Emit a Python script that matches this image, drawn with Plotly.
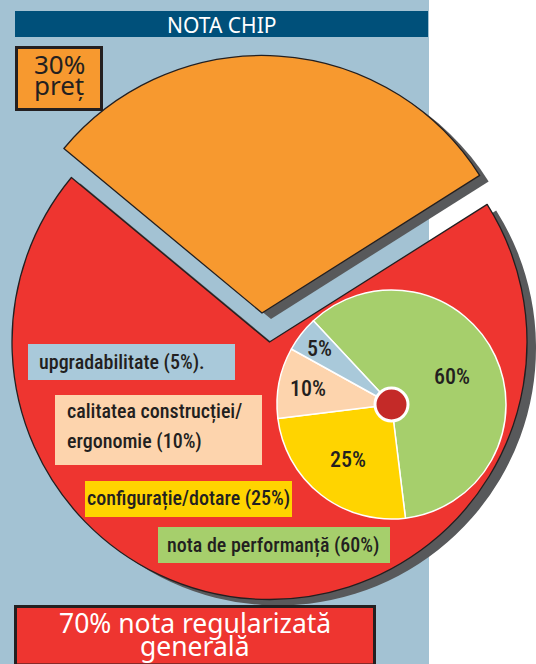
import math
import plotly.graph_objects as go

# ---------------- data ----------------
OUTER_LABELS = ["nota regularizată generală", "preț"]
OUTER_VALUES = [70, 30]
INNER_LABELS = ["nota de performanță", "configurație/dotare",
                "calitatea construcției/ergonomie", "upgradabilitate"]
INNER_VALUES = [60, 25, 10, 5]
TITLE = "NOTA CHIP"
PRICE_TEXT = ["30%", "preț"]
TOTAL_TEXT = ["70% nota regularizată", "generală"]
LEGEND_TEXTS = ["upgradabilitate (5%).", "calitatea construcției/",
                "ergonomie (10%)", "configurație/dotare (25%)",
                "nota de performanță (60%)"]

# ---------------- style ----------------
W, H = 536, 664
BG_BLUE = "#a3c2d3"
NAVY = "#00507a"
RED = "#ee3530"
ORANGE = "#f7992f"
SHADOW = "#58595b"
INK = "#231f20"
CLEAR = "rgba(0,0,0,0)"
INNER_COLORS = ["#a6cf6c", "#ffd400", "#fdd4ad", "#a9c9da"]
COND = "Roboto Condensed, Liberation Sans Narrow, DejaVu Sans Condensed, sans-serif"
SANS = "Noto Sans, Open Sans, sans-serif"

OUTER_ROT = 57.7
INNER_ROT = -43
R_BIG = 257.5
RED_C = (269.5, 342)
ORANGE_C = (262, 313)
SH = (9, 6)
IN_C = (391.5, 404.5)
R_IN = 114.5


def dom(cx, cy, r):
    return dict(x=[max(0, (cx - r) / W), min(1, (cx + r) / W)],
                y=[max(0, 1 - (cy + r) / H), min(1, 1 - (cy - r) / H)])


def X(p):
    return p / W


def Y(p):
    return 1 - p / H


def outer_pie(center, colors, lcolors, lwidths):
    return go.Pie(values=OUTER_VALUES, labels=OUTER_LABELS, sort=False,
                  direction="clockwise", rotation=OUTER_ROT,
                  domain=dom(center[0], center[1], R_BIG),
                  marker=dict(colors=colors,
                              line=dict(color=lcolors, width=lwidths)),
                  textinfo="none", hoverinfo="skip", showlegend=False)


fig = go.Figure()
# red pie shadow, red pie
fig.add_trace(outer_pie((RED_C[0] + SH[0], RED_C[1] + SH[1]),
                        [SHADOW, CLEAR], [CLEAR, CLEAR], [0, 0]))
fig.add_trace(outer_pie(RED_C, [RED, CLEAR], [INK, CLEAR], [1.3, 0]))
# orange (exploded) slice shadow, orange slice
fig.add_trace(outer_pie((ORANGE_C[0] + SH[0], ORANGE_C[1] + SH[1]),
                        [CLEAR, SHADOW], [CLEAR, CLEAR], [0, 0]))
fig.add_trace(outer_pie(ORANGE_C, [CLEAR, ORANGE], [CLEAR, INK], [0, 1.3]))
# inner pie
fig.add_trace(go.Pie(values=INNER_VALUES, labels=INNER_LABELS, sort=False,
                     direction="clockwise", rotation=INNER_ROT,
                     domain=dom(IN_C[0], IN_C[1], R_IN),
                     marker=dict(colors=INNER_COLORS,
                                 line=dict(color="white", width=1.5)),
                     textinfo="none", hoverinfo="skip", showlegend=False))

shapes = []
shapes.append(dict(type="rect", xref="paper", yref="paper", layer="below",
                   x0=X(0), x1=X(429), y0=Y(664), y1=Y(0),
                   fillcolor=BG_BLUE, line=dict(width=0)))
shapes.append(dict(type="rect", xref="paper", yref="paper", layer="below",
                   x0=X(15), x1=X(428), y0=Y(37), y1=Y(11),
                   fillcolor=NAVY, line=dict(width=0)))
# price box
shapes.append(dict(type="rect", xref="paper", yref="paper", layer="above",
                   x0=X(16.5), x1=X(101.5), y0=Y(109.5), y1=Y(47.5),
                   fillcolor=ORANGE, line=dict(color=INK, width=3)))
# total box
shapes.append(dict(type="rect", xref="paper", yref="paper", layer="above",
                   x0=X(15.5), x1=X(374.5), y0=Y(665), y1=Y(606.5),
                   fillcolor=RED, line=dict(color=INK, width=3)))
# legend boxes
legend_boxes = [((28, 344, 235, 380), INNER_COLORS[3]),
                ((55, 395, 262, 465), INNER_COLORS[2]),
                ((85, 481, 292, 517), INNER_COLORS[1]),
                ((158, 527, 390, 563), INNER_COLORS[0])]
for (x0, y0, x1, y1), c in legend_boxes:
    shapes.append(dict(type="rect", xref="paper", yref="paper", layer="above",
                       x0=X(x0), x1=X(x1), y0=Y(y1), y1=Y(y0),
                       fillcolor=c, line=dict(width=0)))
# hole
hr = 16.5
shapes.append(dict(type="circle", xref="paper", yref="paper", layer="above",
                   x0=X(IN_C[0] - hr), x1=X(IN_C[0] + hr),
                   y0=Y(IN_C[1] + hr), y1=Y(IN_C[1] - hr),
                   fillcolor="#c42a28", line=dict(color="white", width=3)))

ann = []


def text(t, x, y, size, color=INK, family=COND, xanchor="center", weight=500):
    ann.append(dict(text=t, x=X(x), y=Y(y), xref="paper", yref="paper",
                    xanchor=xanchor, yanchor="middle", showarrow=False,
                    font=dict(size=size, color=color, family=family,
                              weight=weight)))


text(TITLE, 221, 24.5, 21, "white", SANS, weight=400)
text(PRICE_TEXT[0], 59, 64, 26, INK, SANS, weight=400)
text(PRICE_TEXT[1], 59, 85, 26, INK, SANS, weight=400)
text(TOTAL_TEXT[0], 195, 622.5, 26.5, "white", SANS, weight=400)
text(TOTAL_TEXT[1], 195, 645.5, 26.5, "white", SANS, weight=400)

text(LEGEND_TEXTS[0], 37, 362, 20, xanchor="left")
text(LEGEND_TEXTS[1], 65, 411, 20, xanchor="left")
text(LEGEND_TEXTS[2], 65, 441, 20, xanchor="left")
text(LEGEND_TEXTS[3], 188, 498, 20)
text(LEGEND_TEXTS[4], 273, 545, 20)

# inner slice value labels, placed along each slice bisector
LABEL_DIST = [67, 70, 85, 91]
total = sum(INNER_VALUES)
ang = INNER_ROT
for v, d in zip(INNER_VALUES, LABEL_DIST):
    mid = math.radians(ang + 360 * v / total / 2)
    ang += 360 * v / total
    text(f"{v}%", IN_C[0] + d * math.sin(mid), IN_C[1] - d * math.cos(mid), 22)

fig.update_layout(width=W, height=H, margin=dict(l=0, r=0, t=0, b=0),
                  paper_bgcolor="white", plot_bgcolor="white",
                  shapes=shapes, annotations=ann, showlegend=False)
fig.write_html("out.html", config={"displayModeBar": False},
               post_script="document.body.style.margin='0px';"
                           "document.body.style.overflow='hidden';")
